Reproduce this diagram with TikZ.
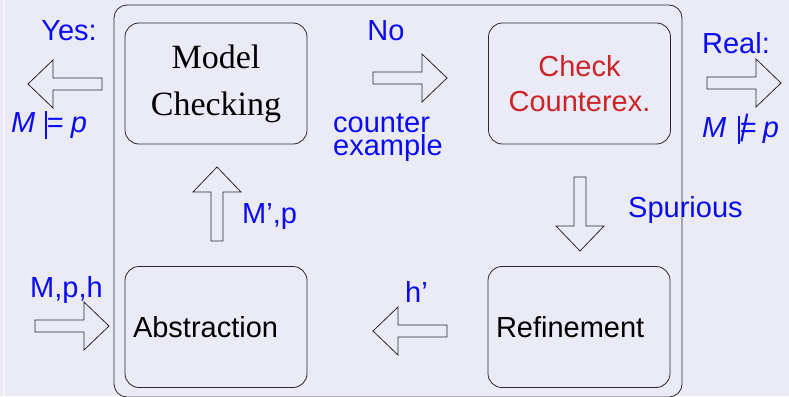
\documentclass[tikz,border=0pt]{standalone}
\usepackage{fontspec}
\setsansfont{Liberation Sans}
\newfontfamily\mcfont{Liberation Serif}
\definecolor{bg}{RGB}{235,235,247}
\definecolor{stripe}{RGB}{246,246,251}
\definecolor{lblue}{RGB}{10,10,245}
\definecolor{cred}{RGB}{204,37,41}
\definecolor{edge}{RGB}{40,40,40}
\newcommand\mdl{\rule[-7pt]{1.3pt}{28pt}\kern0.3pt=}
\newcommand\nmdl{\rlap{\kern2pt\raisebox{-4pt}{\scalebox{1}[1.3]{/}}}\mdl}
\tikzset{
  box/.style={draw=edge, line width=0.8pt, rounded corners=14pt,
    minimum width=182pt, minimum height=121pt, inner sep=0pt},
  sanslab/.style={font=\sffamily\fontsize{29}{35}\selectfont},
  bluelab/.style={sanslab, text=lblue, inner sep=0pt},
  blockarrow/.pic={\draw[draw=edge, line width=0.8pt]
    (0,-6) -- (49,-6) -- (49,-24) -- (74,0) -- (49,24) -- (49,6) -- (0,6) -- cycle;}
}
\begin{document}
\begin{tikzpicture}[x=1pt,y=-1pt]
\useasboundingbox (0,0) rectangle (789,396);
\fill[bg] (0,0) rectangle (789,396);
\fill[stripe] (3,0) rectangle (5,396);
% outer frame
\node[draw=edge, line width=0.8pt, rounded corners=13pt, minimum width=568pt,
  minimum height=392pt, inner sep=0pt] (frame) at (398,201) {};
% boxes
\node[box, font=\mcfont\fontsize{34}{47}\selectfont, align=center] (mc) at (216,83.5) {Model\\Checking};
\node[box, sanslab, text=cred, align=center] (cc) at (579.5,83.5) {Check\\Counterex.};
\node[box, sanslab, text width=166pt, align=left, yshift=-1.5pt] (abs) at (216,325.5) {Abstraction};
\node[box, sanslab, text width=166pt, align=left, yshift=-1.5pt] (ref) at (579,325.5) {Refinement};
% block arrows
\pic[rotate=180] at (102,84) {blockarrow};
\pic at (373,78) {blockarrow};
\pic at (707,83) {blockarrow};
\pic[rotate=90] at (217,241) {blockarrow};
\pic[rotate=-90] at (580,177) {blockarrow};
\pic[rotate=180] at (447,331) {blockarrow};
\pic at (35,326) {blockarrow};
% labels
\node[bluelab, anchor=base] (yes) at (69,41) {Yes:};
\node[bluelab, anchor=base west] (sat) at (11,132) {\textit{M}\hspace{10pt}\mdl\hspace{7pt}\textit{p}};
\node[bluelab, anchor=base] (no) at (386,41) {No};
\node[bluelab, anchor=base west, align=left, font=\sffamily\fontsize{29}{23}\selectfont] (cex) at (333,155) {counter\\example};
\node[bluelab, anchor=base] (real) at (736,53) {Real:};
\node[bluelab, anchor=base west] (unsat) at (702,137) {\textit{M}\hspace{12pt}\nmdl\hspace{6pt}\textit{p}};
\node[bluelab, anchor=base west] (mp) at (242,223) {M’,p};
\node[bluelab, anchor=base west] (spur) at (628,217) {Spurious};
\node[bluelab, anchor=base west] (hp) at (405,302) {h’};
\node[bluelab, anchor=base west] (mph) at (30,297) {M,p,h};
\end{tikzpicture}
\end{document}
